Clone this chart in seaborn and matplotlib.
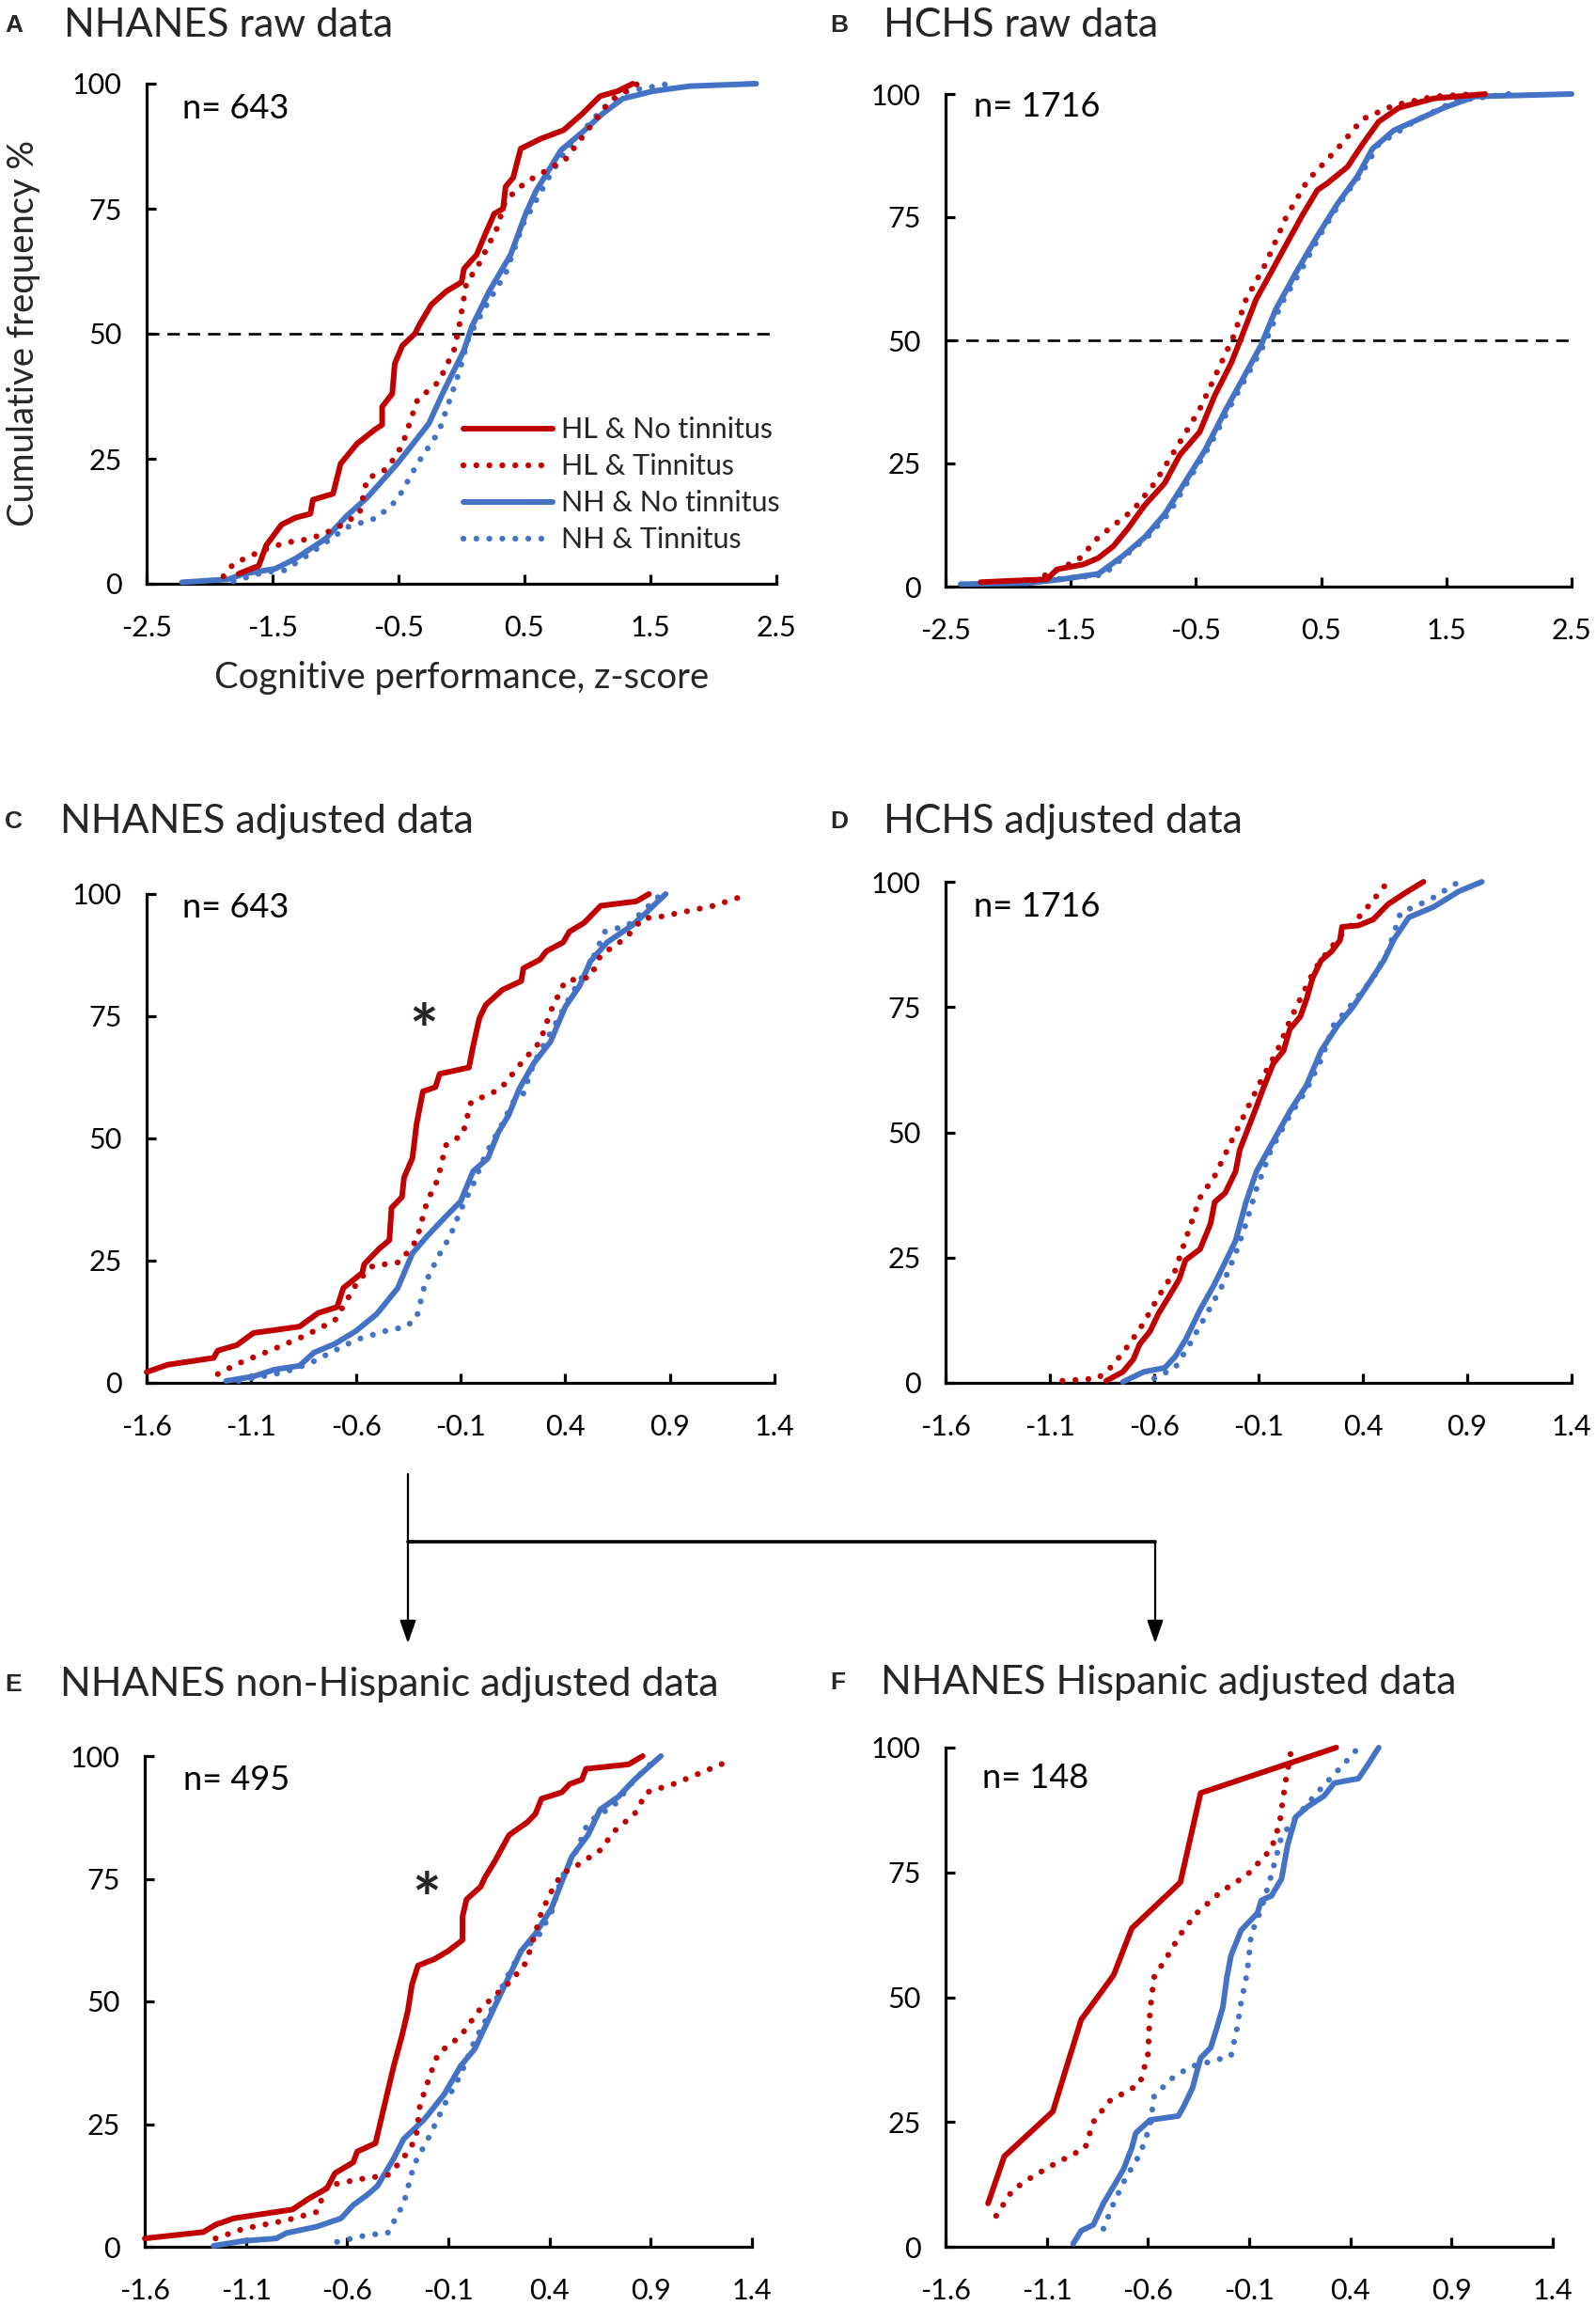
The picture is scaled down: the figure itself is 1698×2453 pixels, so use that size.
import matplotlib
matplotlib.use("Agg")
import matplotlib.pyplot as plt
import pandas as pd
import seaborn as sns
from matplotlib.lines import Line2D
from matplotlib.patches import FancyArrowPatch

sns.set_theme(style="white")
plt.rcParams["font.family"] = ["Lato", "DejaVu Sans"]

GROUPS = ["HL & No tinnitus", "HL & Tinnitus", "NH & No tinnitus", "NH & Tinnitus"]
RED = "#C00000"
BLUE = "#4472C4"

# ---------------- Panel A: NHANES raw data ----------------
A_hl_nt_x = [-1.77,-1.61,-1.55,-1.43,-1.32,-1.20,-1.18,-1.02,-0.96,-0.83,-0.69,-0.63,-0.63,-0.55,-0.53,-0.47,-0.37,-0.33,-0.24,-0.12,0.00,0.02,0.12,0.18,0.26,0.33,0.35,0.41,0.47,0.63,0.81,0.96,1.10,1.24,1.36]
A_hl_nt_y = [2,3.6,7.7,11.8,13.2,14,16.8,18,24,28,30.8,31.8,35.4,38,44,47.6,50,52,55.8,58.5,60.3,63,65.8,69.4,74,75,79.4,81.2,87,89,90.7,94,97.5,98.5,100]
A_hl_t_x = [-1.89,-1.81,-1.57,-1.40,-1.20,-1.00,-0.81,-0.75,-0.59,-0.47,-0.35,-0.18,-0.06,-0.02,0.04,0.12,0.28,0.35,0.51,0.63,0.83,1.04,1.18,1.40]
A_hl_t_y = [1.5,4,6.8,8.2,9,11,14,21,23,27.7,36.8,40.4,46.7,51.3,60.3,63,71,76.7,80.3,82,85,92,96.6,100]
A_nh_nt_x = [-2.22,-1.85,-1.73,-1.48,-1.32,-1.08,-0.91,-0.75,-0.51,-0.26,-0.14,0.02,0.08,0.22,0.39,0.51,0.59,0.79,0.96,1.12,1.28,1.52,1.81,2.34]
A_nh_nt_y = [0.3,0.9,2,3,5,9,13.6,17.2,24,32,38.6,46.7,51.3,58.5,65.8,74,78.5,86.7,90.3,94,97,98.5,99.5,100]
A_nh_t_x = [-1.81,-1.57,-1.40,-1.16,-0.91,-0.67,-0.51,-0.35,-0.18,-0.02,0.06,0.22,0.35,0.49,0.71,0.83,1.12,1.32,1.65]
A_nh_t_y = [0.5,2.3,2.7,6.8,11.3,13.2,16.8,24,30.4,42.2,49.5,56.7,62,72,82,86.7,95,98.5,100]

# ---------------- Panel B: HCHS raw data ----------------
B_hl_nt_x = [-2.22,-1.69,-1.61,-1.40,-1.28,-1.16,-1.04,-0.91,-0.75,-0.63,-0.47,-0.35,-0.22,-0.14,-0.02,0.10,0.22,0.35,0.47,0.55,0.71,0.83,0.96,1.12,1.40,1.81]
B_hl_nt_y = [0.9,1.5,3.5,4.5,5.8,8.2,11.9,16.5,21,26.7,31.4,38.8,45.3,50.4,58.3,63.8,69.4,75.4,80.5,81.9,85.2,89.8,94.4,97.2,99.1,100]
B_hl_t_x = [-1.80,-1.44,-1.28,-1.00,-0.83,-0.67,-0.47,-0.30,-0.20,-0.10,0.06,0.22,0.39,0.63,0.83,1.08,1.40,1.73]
B_hl_t_y = [1.2,5.4,10,15.6,21,27.6,36,45.3,50.8,58.3,65.7,75,82.4,88.9,94.9,97.7,99.5,100]
B_nh_nt_x = [-2.38,-1.85,-1.57,-1.28,-1.08,-0.91,-0.75,-0.59,-0.43,-0.26,-0.10,0.02,0.14,0.30,0.47,0.63,0.79,0.91,1.08,1.28,1.48,1.73,2.50]
B_nh_nt_y = [0.5,0.7,1.5,2.6,6.3,10,14.7,21.1,27.6,36,43.4,49,56.4,63.8,71.2,77.7,83.3,88.9,92.6,94.9,97.2,99.5,100]
B_nh_t_x = [-1.90,-1.24,-1.04,-0.87,-0.71,-0.55,-0.39,-0.22,-0.06,0.06,0.18,0.35,0.51,0.67,0.83,0.96,1.24,1.57,2.00]
B_nh_t_y = [0.8,2.4,6.8,10.5,15.1,22,28.6,36.9,44.3,49.9,57.3,64.7,72.2,78.7,84.2,89.8,94.4,98.6,100]

# ---------------- Panel C: NHANES adjusted data ----------------
C_hl_nt_x = [-1.60,-1.50,-1.28,-1.26,-1.17,-1.09,-0.87,-0.78,-0.69,-0.66,-0.57,-0.56,-0.49,-0.44,-0.43,-0.38,-0.37,-0.33,-0.31,-0.28,-0.22,-0.20,-0.06,-0.04,-0.01,0.02,0.10,0.19,0.20,0.28,0.31,0.39,0.42,0.49,0.57,0.74,0.80]
C_hl_nt_y = [2.2,3.7,5.1,6.6,7.7,10.2,11.5,14.3,15.5,19.4,22.5,24.3,27.4,29.2,35.8,38,42,46,53,59.6,60.5,63.2,64.5,68.9,74.6,77.3,80.4,82.2,84.8,86.6,88.3,90.1,92.3,94.1,97.6,98.5,100]
C_hl_t_x = [-1.26,-1.16,-1.01,-0.84,-0.70,-0.59,-0.52,-0.39,-0.31,-0.26,-0.21,-0.17,-0.09,-0.05,0.09,0.19,0.28,0.33,0.40,0.52,0.57,0.69,0.77,0.86,1.11,1.28]
C_hl_t_y = [1.8,4,6.6,9.7,12.8,20.8,23.9,24.7,29.2,37.1,41.5,48.6,50.8,57.4,60.1,65.4,69.8,76,82.2,83,87.5,91,95,95.4,97.6,100]
C_nh_nt_x = [-1.22,-1.09,-0.99,-0.87,-0.80,-0.70,-0.60,-0.50,-0.40,-0.33,-0.26,-0.16,-0.10,-0.04,0.03,0.08,0.13,0.18,0.25,0.33,0.40,0.47,0.52,0.60,0.72,0.79,0.88]
C_nh_nt_y = [0.4,1.3,2.7,3.5,6.2,8,10.6,14.1,19.4,26.5,30,34.5,37.1,43.3,45.9,51.2,54.8,60.1,65.4,69.8,76.9,81.3,86.2,90.1,93.6,96.3,100]
C_nh_t_x = [-1.16,-0.94,-0.82,-0.72,-0.60,-0.46,-0.36,-0.31,-0.27,-0.21,-0.15,-0.10,-0.04,0.02,0.10,0.15,0.20,0.25,0.34,0.43,0.52,0.59,0.70,0.79,0.86]
C_nh_t_y = [0.4,2.2,4,6.2,8.8,10.6,11.5,13.3,20.3,25.6,30,35.3,40.6,46.8,53,57.4,59.2,65.4,72.4,79.5,85.7,92.3,93.6,97.2,100]

# ---------------- Panel D: HCHS adjusted data ----------------
D_hl_nt_x = [-0.83,-0.75,-0.70,-0.67,-0.62,-0.58,-0.53,-0.48,-0.45,-0.38,-0.33,-0.31,-0.26,-0.21,-0.19,-0.15,-0.11,-0.08,-0.03,0.02,0.05,0.10,0.13,0.16,0.20,0.25,0.29,0.30,0.38,0.45,0.52,0.60,0.69]
D_hl_nt_y = [0.4,2.2,4.7,7.7,10.3,13.8,17.2,20.7,24.5,26.7,31.8,36.1,37.9,42.2,46.5,50.8,55.1,58.5,63.7,66.3,70.6,73.1,76.6,80.9,84.3,86.1,88.3,91.0,91.3,92.5,95.5,97.7,100]
D_hl_t_x = [-1.04,-0.87,-0.80,-0.72,-0.65,-0.58,-0.50,-0.43,-0.38,-0.31,-0.23,-0.16,-0.09,-0.01,0.05,0.11,0.17,0.23,0.30,0.40,0.52]
D_hl_t_y = [0.4,0.9,3.4,7.7,12,17.2,22.4,31,37,41.3,48.2,54.2,60.2,66.3,72.3,77.5,82.6,86,89.5,93.8,100]
D_nh_nt_x = [-0.75,-0.65,-0.55,-0.50,-0.45,-0.38,-0.31,-0.26,-0.21,-0.16,-0.11,-0.03,0.05,0.13,0.20,0.28,0.35,0.42,0.50,0.55,0.62,0.74,0.86,0.97]
D_nh_nt_y = [0.2,2.2,3,5.2,8.6,14.6,19.8,24.1,28.4,36.1,42.2,48.2,54.2,59.4,66.3,71.4,74.9,79.2,84.3,88.6,92.9,95,98.1,100]
D_nh_t_x = [-0.60,-0.50,-0.43,-0.36,-0.28,-0.21,-0.16,-0.11,-0.04,0.05,0.13,0.20,0.26,0.35,0.45,0.52,0.58,0.72,0.86]
D_nh_t_y = [0.9,3,7.7,12.9,18.9,25.8,31.8,38.7,46.5,53.4,58.5,64.5,71.4,75.7,80.9,86.1,93.8,96.4,100]

# ---------------- Panel E: NHANES non-Hispanic adjusted data ----------------
E_hl_nt_x = [-1.60,-1.31,-1.25,-1.16,-0.87,-0.79,-0.70,-0.66,-0.57,-0.55,-0.46,-0.42,-0.37,-0.33,-0.30,-0.28,-0.25,-0.17,-0.10,-0.03,-0.03,-0.01,0.06,0.08,0.13,0.20,0.29,0.33,0.36,0.46,0.50,0.56,0.58,0.79,0.86]
E_hl_nt_y = [1.7,3,4.5,5.8,7.6,9.8,11.9,15,17.2,19.4,21.1,28.1,36.8,42.9,48.1,53.4,57.3,58.6,60.3,62.5,67.3,70.8,73.4,75.2,78.6,83.9,86.5,88.2,91.3,92.6,94.3,95.2,97.4,98.3,100]
E_hl_t_x = [-1.25,-1.11,-0.90,-0.75,-0.70,-0.55,-0.40,-0.33,-0.26,-0.24,-0.19,-0.15,-0.04,0.05,0.14,0.21,0.28,0.31,0.36,0.41,0.46,0.54,0.65,0.72,0.82,0.88,1.02,1.27]
E_hl_t_y = [1.7,3.7,5.4,7.1,12.4,13.7,14.6,17.6,22,28.9,35,39.4,42.9,48.1,51.6,54.2,57.7,61.2,68.2,72.5,76,77.8,80.8,84.7,88.2,92.6,94.4,98.7]
E_nh_nt_x = [-1.26,-1.11,-0.95,-0.90,-0.75,-0.63,-0.57,-0.50,-0.45,-0.37,-0.32,-0.22,-0.12,-0.04,0.03,0.11,0.18,0.26,0.33,0.41,0.46,0.51,0.59,0.65,0.74,0.82,0.89,0.95]
E_nh_nt_y = [0.2,1.2,1.7,2.8,4.1,5.8,8.5,10.6,12.4,18,22,25.9,31.1,36.8,40.3,47.3,53.4,60.3,63.8,69,74.3,79.5,83.9,89.1,91.7,95.2,97.8,100]
E_nh_t_x = [-0.65,-0.50,-0.40,-0.32,-0.27,-0.19,-0.12,-0.04,0.03,0.11,0.18,0.26,0.34,0.41,0.46,0.54,0.59,0.72,0.82,0.94]
E_nh_t_y = [1,2.4,2.8,8.9,16.7,22.8,28.9,35,42,48.1,54.2,60.3,62.9,68.2,75.2,81.3,86.5,90,95.2,100]

# ---------------- Panel F: NHANES Hispanic adjusted data ----------------
F_hl_nt_x = [-1.39,-1.31,-1.07,-0.93,-0.77,-0.68,-0.44,-0.34,0.33]
F_hl_nt_y = [8.7,18.1,27.1,45.5,54.4,63.8,73,90.9,100]
F_hl_t_x = [-1.35,-1.27,-1.18,-1.07,-0.91,-0.87,-0.79,-0.64,-0.60,-0.59,-0.57,-0.49,-0.44,-0.36,-0.24,-0.11,0.01,0.05,0.08,0.10,0.11]
F_hl_t_y = [6.2,11.3,13.8,16.4,19.8,25,29.2,32.6,38.6,47.2,54,59.1,62.6,66.8,71.1,74.5,79.7,84.8,93.3,97.6,100]
F_nh_nt_x = [-0.97,-0.93,-0.87,-0.82,-0.77,-0.72,-0.68,-0.66,-0.59,-0.45,-0.42,-0.38,-0.34,-0.29,-0.26,-0.23,-0.21,-0.19,-0.14,-0.06,-0.04,0.01,0.06,0.09,0.13,0.19,0.27,0.32,0.44,0.49,0.54]
F_nh_nt_y = [0.6,3.2,4.4,8.7,12.1,15.6,19.8,22.8,25.4,26.2,28.4,31.8,37.8,39.9,43.8,48,54,58.3,63.4,66.8,69.4,70.3,73.7,80.5,86.1,88.2,90.3,92.9,93.8,96.8,100]
F_nh_t_x = [-0.82,-0.77,-0.71,-0.64,-0.59,-0.57,-0.49,-0.39,-0.31,-0.19,-0.16,-0.14,-0.11,-0.09,-0.04,0.01,0.06,0.14,0.27,0.37,0.44]
F_nh_t_y = [3.6,8.7,13.8,18.5,24.1,30.1,33.5,36.1,36.9,38.2,43.8,48.9,54.9,62.6,67.7,74.5,82.2,86.5,92.5,96.8,100]

RAW_XTICKS = [-2.5, -1.5, -0.5, 0.5, 1.5, 2.5]
ADJ_XTICKS = [-1.6, -1.1, -0.6, -0.1, 0.4, 0.9, 1.4]
Y_TICKS = [0, 25, 50, 75, 100]

W, H = 1698, 2453
fig = plt.figure(figsize=(W / 100, H / 100), dpi=100)

SOLID_LW = 4.3
DOT_LW = 4.5
DOTTED = (0, (0.01, 2.2))
STYLES = [(RED, "-", SOLID_LW), (RED, DOTTED, DOT_LW), (BLUE, "-", SOLID_LW), (BLUE, DOTTED, DOT_LW)]

TICK_FS = 22
TITLE_FS = 31


def make_axes(L, R, T, B):
    return fig.add_axes([L / W, 1 - B / H, (R - L) / W, (B - T) / H])


def draw_panel(ax, series, xticks, n_text, n_pos, dashed50=False):
    lines = {}
    for i in [3, 2, 1, 0]:
        xs, ys = series[i]
        color, ls, lw = STYLES[i]
        df = pd.DataFrame({"x": xs, "y": ys})
        sns.lineplot(data=df, x="x", y="y", ax=ax, color=color, linestyle=ls,
                     linewidth=lw, sort=False, estimator=None,
                     dash_capstyle="round", solid_capstyle="round",
                     solid_joinstyle="round", zorder=3 + (3 - i), clip_on=False)
        lines[i] = ax.lines[-1]
    handles = [lines[i] for i in range(4)]
    ax.set_xlim(xticks[0], xticks[-1])
    ax.set_ylim(0, 100)
    ax.set_xticks(xticks)
    ax.set_xticklabels([f"{t:g}" for t in xticks])
    ax.set_yticks(Y_TICKS)
    ax.set_xlabel("")
    ax.set_ylabel("")
    for s in ["top", "right"]:
        ax.spines[s].set_visible(False)
    for s in ["left", "bottom"]:
        ax.spines[s].set_color("black")
        ax.spines[s].set_linewidth(2.3)
    ax.tick_params(direction="in", length=7.5, width=2.3, colors="black",
                   labelsize=TICK_FS, left=True, bottom=True)
    ax.tick_params(axis="x", pad=24)
    ax.tick_params(axis="y", pad=19)
    ax.grid(False)
    ax.set_facecolor("white")
    if dashed50:
        ax.axhline(50, color="black", linewidth=1.9, linestyle=(0, (5, 3.2)), zorder=2)
    ax.text(n_pos[0], n_pos[1], n_text, transform=ax.transAxes, fontsize=26,
            ha="left", va="center", color="black")
    return handles


def panel_title(letter, title, xl, xt, y):
    fig.text(xl / W, 1 - y / H, letter, fontsize=19, fontweight="bold",
             family=["Liberation Sans", "DejaVu Sans"], ha="left", va="center")
    fig.text(xt / W, 1 - y / H, title, fontsize=TITLE_FS, ha="left", va="center")


# Panel A
axA = make_axes(156, 826, 89, 621)
hA = draw_panel(axA, [(A_hl_nt_x, A_hl_nt_y), (A_hl_t_x, A_hl_t_y),
                      (A_nh_nt_x, A_nh_nt_y), (A_nh_t_x, A_nh_t_y)],
                RAW_XTICKS, "n= 643", (0.057, 0.95), dashed50=True)
axA.set_ylabel("Cumulative frequency %", fontsize=27.5, labelpad=24)
axA.set_xlabel("Cognitive performance, z-score", fontsize=27.5, labelpad=15)
axA.legend(hA, GROUPS, loc="upper left", bbox_to_anchor=(0.503, 0.334),
           frameon=False, fontsize=22, handlelength=3.1, handletextpad=0.3,
           labelspacing=0.36, borderpad=0, borderaxespad=0)
panel_title("A", "NHANES raw data", 5, 68, 27)

# Panel B
axB = make_axes(1006, 1672, 100, 624)
draw_panel(axB, [(B_hl_nt_x, B_hl_nt_y), (B_hl_t_x, B_hl_t_y),
                 (B_nh_nt_x, B_nh_nt_y), (B_nh_t_x, B_nh_t_y)],
           RAW_XTICKS, "n= 1716", (0.045, 0.974), dashed50=True)
panel_title("B", "HCHS raw data", 883, 940, 27)

# Panel C
axC = make_axes(156, 824, 951, 1471)
draw_panel(axC, [(C_hl_nt_x, C_hl_nt_y), (C_hl_t_x, C_hl_t_y),
                 (C_nh_nt_x, C_nh_nt_y), (C_nh_t_x, C_nh_t_y)],
           ADJ_XTICKS, "n= 643", (0.057, 0.973))
axC.text(-0.276, 71.0, "*", fontsize=52, fontweight="bold", ha="center", va="center")
panel_title("C", "NHANES adjusted data", 5, 64, 874)

# Panel D
axD = make_axes(1006, 1672, 938, 1471)
draw_panel(axD, [(D_hl_nt_x, D_hl_nt_y), (D_hl_t_x, D_hl_t_y),
                 (D_nh_nt_x, D_nh_nt_y), (D_nh_t_x, D_nh_t_y)],
           ADJ_XTICKS, "n= 1716", (0.045, 0.951))
panel_title("D", "HCHS adjusted data", 883, 940, 874)

# Panel E
axE = make_axes(154, 800, 1868, 2390)
draw_panel(axE, [(E_hl_nt_x, E_hl_nt_y), (E_hl_t_x, E_hl_t_y),
                 (E_nh_nt_x, E_nh_nt_y), (E_nh_t_x, E_nh_t_y)],
           ADJ_XTICKS, "n= 495", (0.063, 0.952))
axE.text(-0.21, 69.8, "*", fontsize=52, fontweight="bold", ha="center", va="center")
panel_title("E", "NHANES non-Hispanic adjusted data", 5, 64, 1792)

# Panel F
axF = make_axes(1006, 1652, 1859, 2390)
draw_panel(axF, [(F_hl_nt_x, F_hl_nt_y), (F_hl_t_x, F_hl_t_y),
                 (F_nh_nt_x, F_nh_nt_y), (F_nh_t_x, F_nh_t_y)],
           ADJ_XTICKS, "n= 148", (0.06, 0.938))
panel_title("F", "NHANES Hispanic adjusted data", 883, 937, 1790)


# Connector arrows between C and E/F
def fx(px):
    return px / W


def fy(py):
    return 1 - py / H


x1, x2 = 434, 1229
y_top, y_mid, y_tip = 1568, 1640, 1748
fig.add_artist(Line2D([fx(x1), fx(x2)], [fy(y_mid), fy(y_mid)], transform=fig.transFigure,
                      color="black", linewidth=2.6))
for xa, ys in [(x1, y_top), (x2, y_mid)]:
    arr = FancyArrowPatch((fx(xa), fy(ys)), (fx(xa), fy(y_tip)), transform=fig.transFigure,
                          arrowstyle="-|>,head_length=0.62,head_width=0.22",
                          mutation_scale=24, color="black", linewidth=1.6,
                          shrinkA=0, shrinkB=0)
    fig.add_artist(arr)

fig.savefig("out.png", dpi=100, facecolor="white")
